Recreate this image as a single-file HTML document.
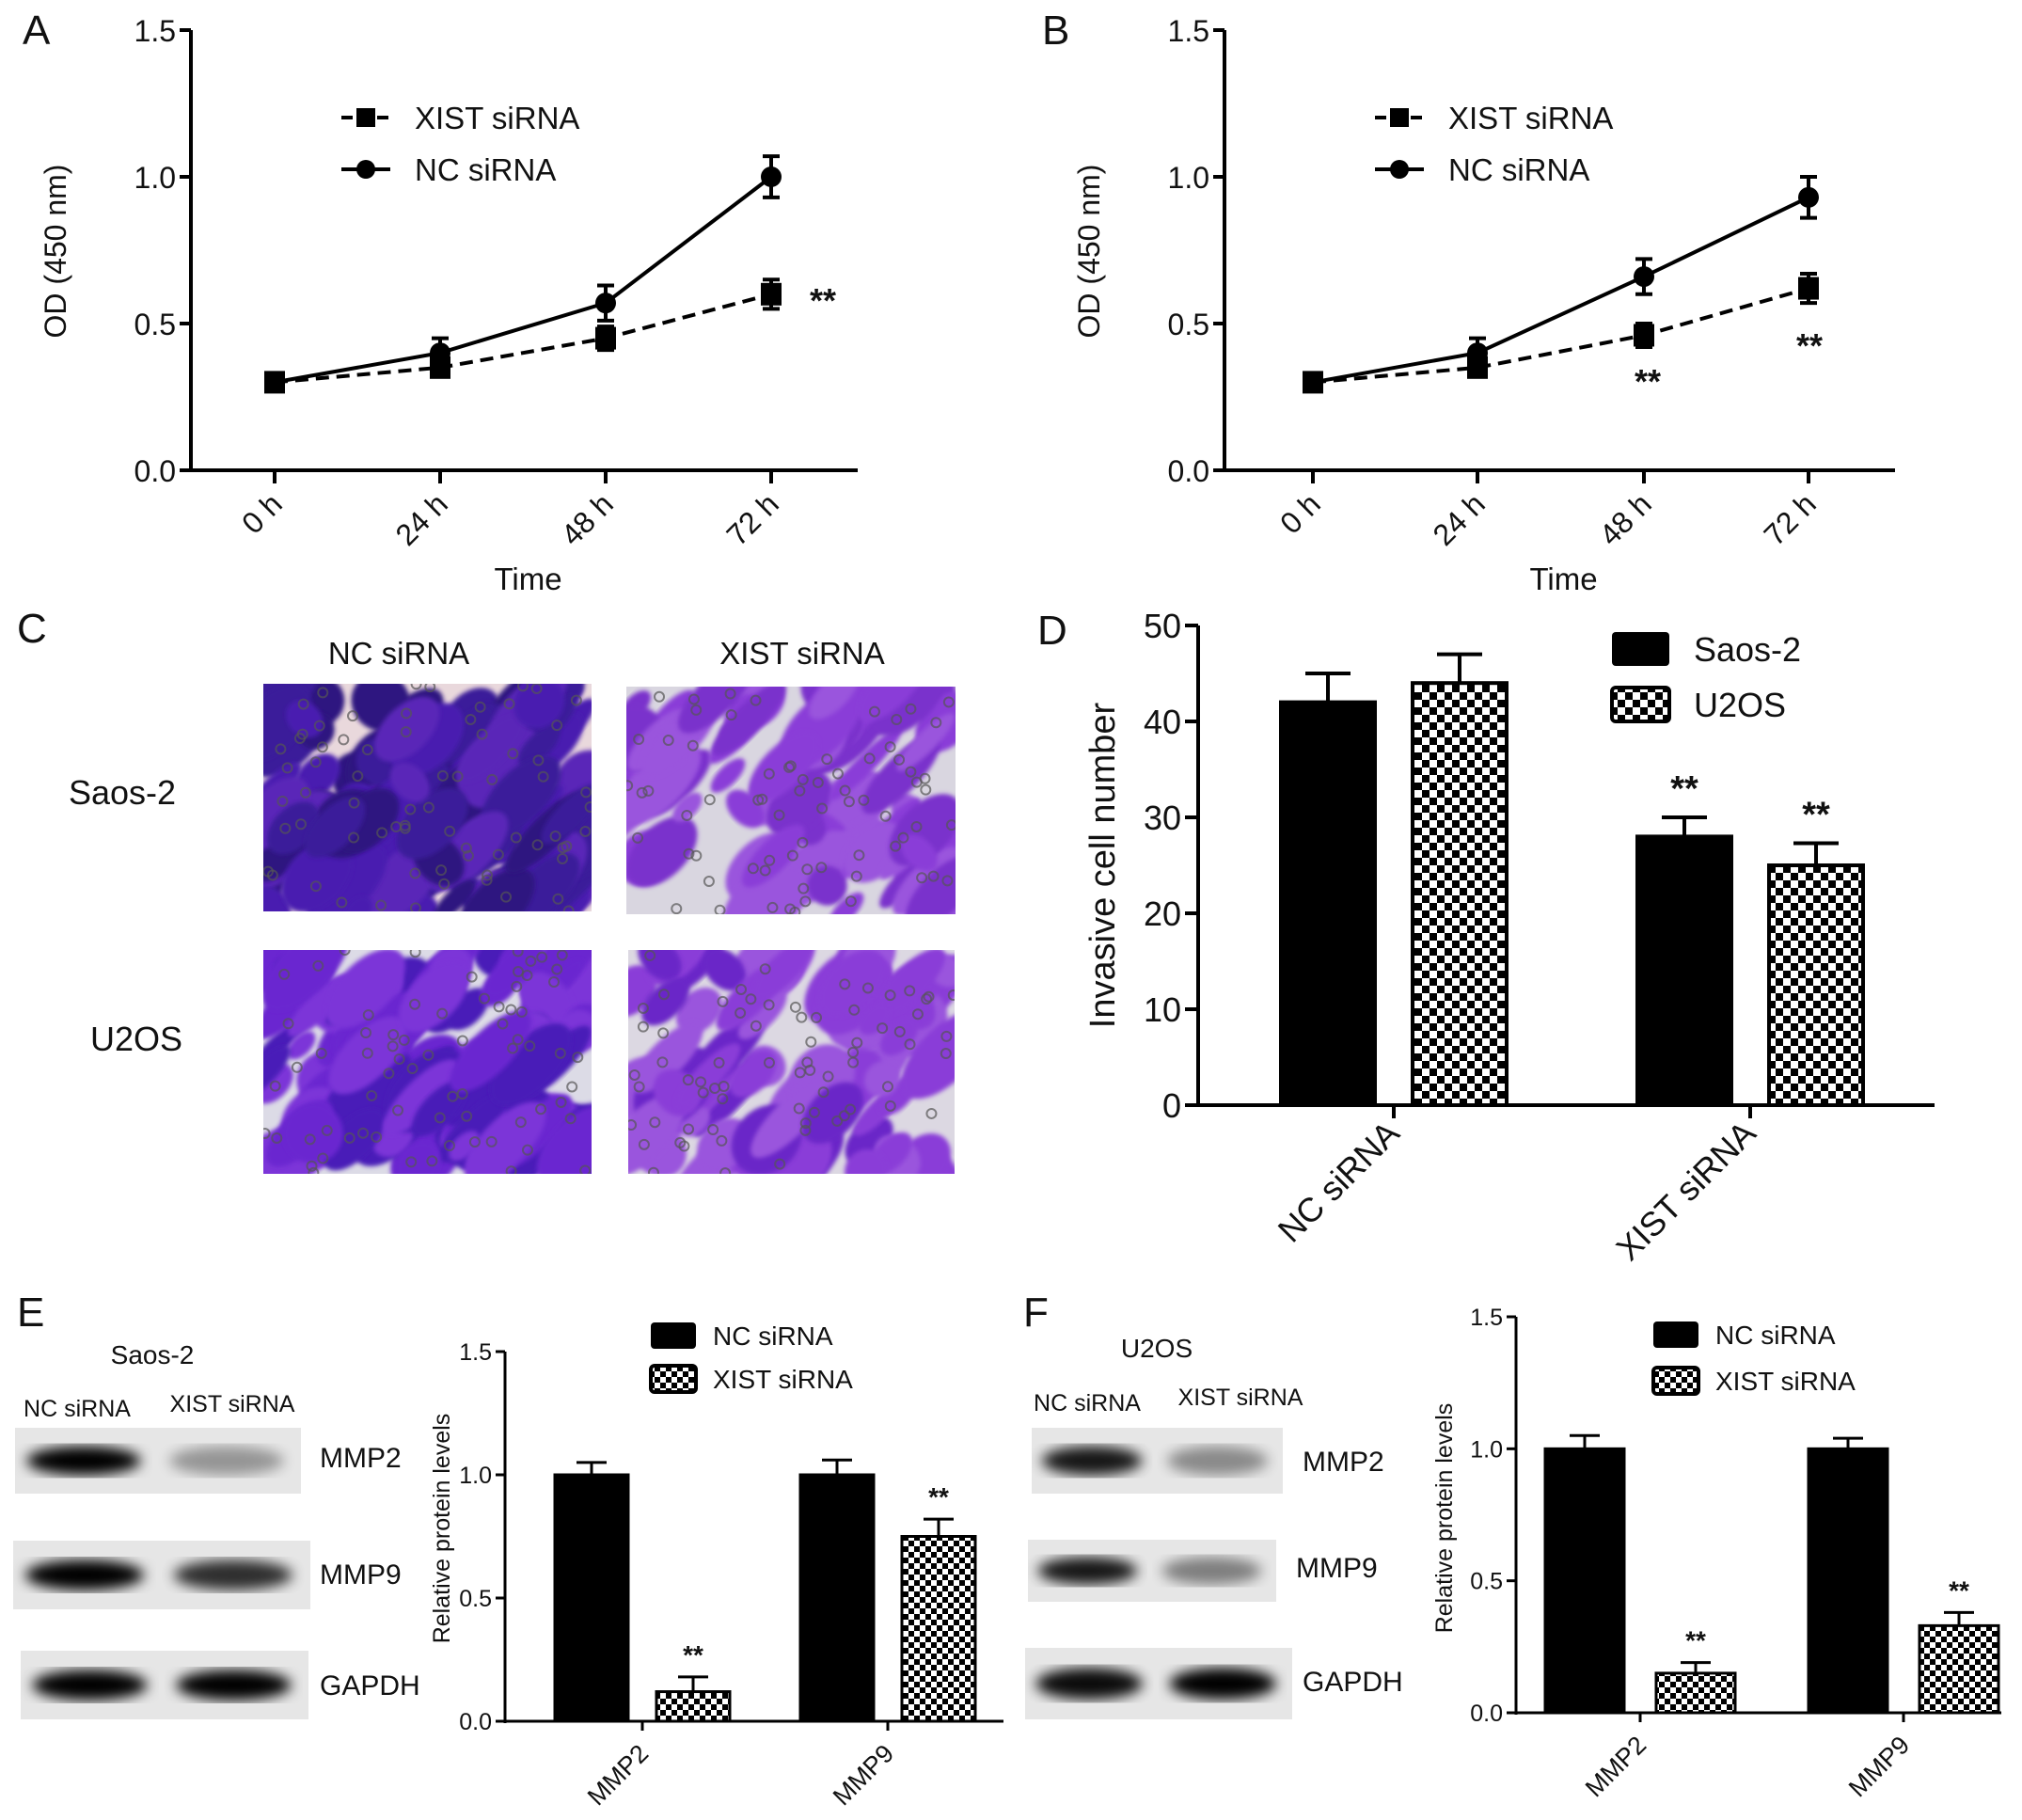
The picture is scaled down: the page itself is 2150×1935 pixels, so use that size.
<!DOCTYPE html>
<html><head><meta charset="utf-8"><style>
html,body{margin:0;padding:0;background:#fff;}
svg{display:block;font-family:"Liberation Sans",Arial,sans-serif;}
</style></head><body>
<svg id="fig" width="2150" height="1935" viewBox="0 0 2150 1935" xmlns="http://www.w3.org/2000/svg">
<defs>
<pattern id="chk" width="16" height="16" patternUnits="userSpaceOnUse">
<rect width="16" height="16" fill="#fff"/><rect width="8" height="8" fill="#000"/><rect x="8" y="8" width="8" height="8" fill="#000"/>
</pattern>
<pattern id="chk2" width="12" height="12" patternUnits="userSpaceOnUse">
<rect width="12" height="12" fill="#fff"/><rect width="6" height="6" fill="#000"/><rect x="6" y="6" width="6" height="6" fill="#000"/>
</pattern>
<filter id="blur6"><feGaussianBlur stdDeviation="7"/></filter>
<filter id="blur3"><feGaussianBlur stdDeviation="2.5"/></filter>
</defs>
</svg>
<script>
// ---- Panel A/B data (OD 450nm) ----
const timeLabels = ["0 h","24 h","48 h","72 h"];
const odTicks = [0.0,0.5,1.0,1.5];
const aXist = [0.30,0.35,0.45,0.60];
const aXistErr = [0.03,0.03,0.04,0.05];
const aNc = [0.30,0.40,0.57,1.00];
const aNcErr = [0.03,0.05,0.06,0.07];
const bXist = [0.30,0.35,0.46,0.62];
const bXistErr = [0.03,0.03,0.04,0.05];
const bNc = [0.30,0.40,0.66,0.93];
const bNcErr = [0.03,0.05,0.06,0.07];
// ---- Panel D data ----
const dGroups = ["NC siRNA","XIST siRNA"];
const dSaos = [42,28];
const dSaosErr = [3,2];
const dU2os = [44,25];
const dU2osErr = [3,2.3];
const dTicks = [0,10,20,30,40,50];
// ---- Panel E/F data ----
const protGroups = ["MMP2","MMP9"];
const protTicks = [0.0,0.5,1.0,1.5];
const eNc = [1.0,1.0];
const eNcErr = [0.05,0.06];
const eXist = [0.12,0.75];
const eXistErr = [0.06,0.07];
const fNc = [1.0,1.0];
const fNcErr = [0.05,0.04];
const fXist = [0.15,0.33];
const fXistErr = [0.04,0.05];

const svg = document.getElementById('fig');
const NS = 'http://www.w3.org/2000/svg';
function mk(tag, attrs, name, parent){
  const el = document.createElementNS(NS, tag);
  for (const k in attrs) el.setAttribute(k, attrs[k]);
  
  
  (parent||svg).appendChild(el);
  return el;
}
function txt(x,y,s,size,name,extra){
  const a = Object.assign({x:x,y:y,'font-size':size,fill:'#111'}, extra||{});
  const t = mk('text', a, name);
  t.textContent = s;
  return t;
}
function lin(x1,y1,x2,y2,w,name,extra){
  return mk('line', Object.assign({x1:x1,y1:y1,x2:x2,y2:y2,stroke:'#000','stroke-width':w}, extra||{}), name);
}

// ===== line charts =====
function lineChart(o){
  const yS = v => o.y0 - (v - 0)/(1.5)*(o.y0 - o.yTop);
  const xS = i => o.xs[i];
  lin(o.ax, o.yTop, o.ax, o.y0+2, 4, o.p+'-y-axis');
  lin(o.ax-2, o.y0, o.xEnd, o.y0, 4, o.p+'-x-axis');
  odTicks.forEach(v=>{
    lin(o.ax-12, yS(v), o.ax, yS(v), 4, o.p+'-y-tick');
    txt(o.ax-16, yS(v)+12, v.toFixed(1), 32, o.p+'-y-tick-label', {'text-anchor':'end'});
  });
  timeLabels.forEach((s,i)=>{
    lin(xS(i), o.y0, xS(i), o.y0+14, 4, o.p+'-x-tick');
    txt(xS(i)+10, o.y0+38, s, 32, o.p+'-x-tick-label', {'text-anchor':'end', transform:`rotate(-45 ${xS(i)+10} ${o.y0+38})`});
  });
  txt((o.ax+o.xEnd)/2+4, 627, 'Time', 33, o.p+'-x-axis-title', {'text-anchor':'middle'});
  txt(o.ax-145+12, 267, 'OD (450 nm)', 32, o.p+'-y-axis-title', {'text-anchor':'middle', transform:`rotate(-90 ${o.ax-133} 267)`});
  function series(vals, errs, dashed, marker, nm){
    let d = vals.map((v,i)=>(i?'L':'M')+xS(i)+','+yS(v)).join(' ');
    mk('path', {d:d, fill:'none', stroke:'#000','stroke-width':4,'stroke-dasharray':dashed?'14,8':'none'}, o.p+'-'+nm+'-line');
    vals.forEach((v,i)=>{
      const x=xS(i), e=errs[i];
      lin(x, yS(v+e), x, yS(v-e), 4, o.p+'-'+nm+'-error-bar');
      lin(x-9, yS(v+e), x+9, yS(v+e), 4, o.p+'-'+nm+'-error-cap');
      lin(x-9, yS(v-e), x+9, yS(v-e), 4, o.p+'-'+nm+'-error-cap');
      if (marker==='sq') mk('rect',{x:x-11,y:yS(v)-12,width:22,height:24,fill:'#000'}, o.p+'-'+nm+'-point');
      else mk('circle',{cx:x,cy:yS(v),r:11,fill:'#000'}, o.p+'-'+nm+'-point');
    });
  }
  series(o.xist, o.xistErr, true, 'sq', 'xist');
  series(o.nc, o.ncErr, false, 'ci', 'nc');
  // legend
  const lx = o.ax+160;
  lin(lx, 125, lx+52, 125, 4, o.p+'-legend-xist-line', {'stroke-dasharray':'12,7'});
  mk('rect',{x:lx+16,y:115,width:20,height:20,fill:'#000'}, o.p+'-legend-xist-marker');
  txt(lx+78, 137, 'XIST siRNA', 33, o.p+'-legend-xist-label');
  lin(lx, 180, lx+52, 180, 4, o.p+'-legend-nc-line');
  mk('circle',{cx:lx+26,cy:180,r:10,fill:'#000'}, o.p+'-legend-nc-marker');
  txt(lx+78, 192, 'NC siRNA', 33, o.p+'-legend-nc-label');
  o.stars.forEach(s=>txt(s[0], s[1], '**', 36, o.p+'-significance', {'text-anchor':'middle','font-weight':'bold'}));
  txt(o.labelX, 47, o.label, 44, o.p+'-panel-label');
}
lineChart({p:'a', label:'A', labelX:24, ax:203, yTop:32, y0:500, xEnd:912, xs:[292,468,644,820],
  xist:aXist, xistErr:aXistErr, nc:aNc, ncErr:aNcErr, stars:[[875,332]]});
lineChart({p:'b', label:'B', labelX:1108, ax:1302, yTop:32, y0:500, xEnd:2015, xs:[1396,1571,1748,1923],
  xist:bXist, xistErr:bXistErr, nc:bNc, ncErr:bNcErr, stars:[[1752,418],[1924,380]]});

// ===== bar charts =====
function barChart(o){
  const yS = v => o.y0 - v/o.max*(o.y0-o.yTop);
  lin(o.ax, o.yTop, o.ax, o.y0+2, o.lw, o.p+'-y-axis');
  lin(o.ax-2, o.y0, o.xEnd, o.y0, o.lw, o.p+'-x-axis');
  o.ticks.forEach(v=>{
    lin(o.ax-o.tl, yS(v), o.ax, yS(v), o.lw, o.p+'-y-tick');
    txt(o.ax-o.tl-4, yS(v)+o.fs*0.36, o.fmt(v), o.fs, o.p+'-y-tick-label', {'text-anchor':'end'});
  });
  o.groups.forEach((g,i)=>{
    const c = o.centers[i];
    lin(c, o.y0, c, o.y0+o.tl, o.lw, o.p+'-x-tick');
    txt(c+8, o.y0+o.tl+o.xoff, g, o.xfs, o.p+'-x-tick-label', {'text-anchor':'end', transform:`rotate(-45 ${c+8} ${o.y0+o.tl+o.xoff})`});
    [[o.s1,o.e1,'#000',-1],[o.s2,o.e2,o.pat,1]].forEach((s,k)=>{
      const v = s[0][i], e = s[1][i];
      const x0 = k===0 ? c-o.gap/2-o.bw : c+o.gap/2;
      const xc = x0+o.bw/2;
      lin(xc, yS(v), xc, yS(v+e), o.lw, o.p+'-error-bar');
      lin(xc-o.cap, yS(v+e), xc+o.cap, yS(v+e), o.lw, o.p+'-error-cap');
      mk('rect',{x:x0,y:yS(v),width:o.bw,height:o.y0-yS(v),fill:s[2],stroke:'#000','stroke-width':o.lw}, o.p+'-bar-'+g.replace(/\s/g,'-').toLowerCase()+'-'+(k?o.n2:o.n1));
      if (o.starIdx.indexOf(i)>=0 && (k===1 || o.starBoth))
        txt(xc, yS(v+e)-o.starOff, '**', o.sfs, o.p+'-significance', {'text-anchor':'middle','font-weight':'bold'});
    });
  });
  // legend
  mk('rect',{x:o.lgx,y:o.lgy-o.lh/2,width:o.lwid,height:o.lh,fill:'#000',rx:4}, o.p+'-legend-swatch-1');
  txt(o.lgx+o.lwid+o.lpad, o.lgy+o.lfs*0.36, o.l1, o.lfs, o.p+'-legend-label-1');
  mk('rect',{x:o.lgx,y:o.lgy+o.lsp-o.lh/2,width:o.lwid,height:o.lh,fill:o.pat,stroke:'#000','stroke-width':4,rx:4}, o.p+'-legend-swatch-2');
  txt(o.lgx+o.lwid+o.lpad, o.lgy+o.lsp+o.lfs*0.36, o.l2, o.lfs, o.p+'-legend-label-2');
  txt(o.ylx, o.yly, o.ylab, o.ylfs, o.p+'-y-axis-title', {'text-anchor':'middle', transform:`rotate(-90 ${o.ylx} ${o.yly})`});
}
barChart({p:'d', ax:1274, yTop:665, y0:1175, xEnd:2057, max:50, ticks:dTicks, fmt:v=>String(v), fs:36, xfs:36, xoff:18, lw:4, tl:14,
  groups:dGroups, centers:[1482,1861], gap:40, bw:100, cap:24, s1:dSaos, e1:dSaosErr, s2:dU2os, e2:dU2osErr, pat:'url(#chk)',
  n1:'saos-2', n2:'u2os', starIdx:[1], starBoth:true, starOff:18, sfs:38,
  lgx:1714, lgy:690, lh:36, lwid:61, lsp:59, lpad:26, lfs:36, l1:'Saos-2', l2:'U2OS',
  ylx:1185, yly:920, ylab:'Invasive cell number', ylfs:38});
barChart({p:'e', ax:537, yTop:1437, y0:1830, xEnd:1067, max:1.5, ticks:protTicks, fmt:v=>v.toFixed(1), fs:25, xfs:27, xoff:26, lw:3, tl:10,
  groups:protGroups, centers:[683,944], gap:30, bw:78, cap:16, s1:eNc, e1:eNcErr, s2:eXist, e2:eXistErr, pat:'url(#chk2)',
  n1:'nc', n2:'xist', starIdx:[0,1], starBoth:false, starOff:14, sfs:28,
  lgx:692, lgy:1420, lh:28, lwid:48, lsp:46, lpad:18, lfs:28, l1:'NC siRNA', l2:'XIST siRNA',
  ylx:478, yly:1625, ylab:'Relative protein levels', ylfs:25});
barChart({p:'f', ax:1612, yTop:1400, y0:1821, xEnd:2128, max:1.5, ticks:protTicks, fmt:v=>v.toFixed(1), fs:25, xfs:27, xoff:26, lw:3, tl:10,
  groups:protGroups, centers:[1744,2024], gap:34, bw:84, cap:16, s1:fNc, e1:fNcErr, s2:fXist, e2:fXistErr, pat:'url(#chk2)',
  n1:'nc', n2:'xist', starIdx:[0,1], starBoth:false, starOff:14, sfs:28,
  lgx:1758, lgy:1419, lh:28, lwid:48, lsp:49, lpad:18, lfs:28, l1:'NC siRNA', l2:'XIST siRNA',
  ylx:1544, yly:1614, ylab:'Relative protein levels', ylfs:25});
txt(1103, 685, 'D', 44, 'd-panel-label');

// ===== Panel C: micrographs =====
txt(18, 683, 'C', 44, 'c-panel-label');
txt(424, 706, 'NC siRNA', 33, 'c-col-label-nc', {'text-anchor':'middle'});
txt(853, 706, 'XIST siRNA', 33, 'c-col-label-xist', {'text-anchor':'middle'});
txt(130, 855, 'Saos-2', 36, 'c-row-label-saos2', {'text-anchor':'middle'});
txt(145, 1117, 'U2OS', 36, 'c-row-label-u2os', {'text-anchor':'middle'});
let seed = 7;
function rnd(){ seed = (seed*16807) % 2147483647; return (seed-1)/2147483646; }
function micro(x,y,w,h,bg,col,density,n){
  const g = mk('g',{}, n);
  const cid = n+'-clip';
  const cp = mk('clipPath',{id:cid}, n+'-clip');
  mk('rect',{x:x,y:y,width:w,height:h}, n+'-clip-rect', cp);
  g.setAttribute('clip-path','url(#'+cid+')');
  mk('rect',{x:x,y:y,width:w,height:h,fill:bg}, n+'-background', g);
  for(let i=0;i<density;i++){
    const cx=x+rnd()*w, cy=y+rnd()*h, rx=15+rnd()*45, ry=10+rnd()*25;
    mk('ellipse',{cx:cx,cy:cy,rx:rx,ry:ry,fill:col[Math.floor(rnd()*col.length)],transform:`rotate(-45 ${cx} ${cy})`,filter:'url(#blur3)'}, n+'-cell', g);
  }
  for(let i=0;i<70;i++){
    mk('circle',{cx:x+rnd()*w,cy:y+rnd()*h,r:5,fill:'none',stroke:'#555','stroke-width':2,opacity:0.7}, n+'-pore', g);
  }
}
micro(280,727,349,242,'#e9d8dc',['#3a1a9a','#4a1fb0','#2d1580','#5a25b8'],120,'micro-saos2-nc');
micro(666,730,350,242,'#d9d6e0',['#8a3ed8','#7a30cc','#9a55dd'],65,'micro-saos2-xist');
micro(280,1010,349,238,'#dcdbe6',['#6a25d0','#4a1fb8','#7c35d8'],100,'micro-u2os-nc');
micro(668,1010,347,238,'#dcd8e2',['#8a3ed8','#6a28c8','#9a55dd'],65,'micro-u2os-xist');

// ===== Western blots =====
function blot(x,y,w,h,b1,b2,n){
  mk('rect',{x:x,y:y,width:w,height:h,fill:'#e6e6e6'}, n+'-membrane');
  mk('ellipse',{cx:x+w*0.24,cy:y+h/2,rx:w*0.2,ry:h*0.22,fill:'#000',opacity:b1,filter:'url(#blur6)'}, n+'-band-nc');
  mk('ellipse',{cx:x+w*0.74,cy:y+h/2,rx:w*0.2,ry:h*0.22,fill:'#000',opacity:b2,filter:'url(#blur6)'}, n+'-band-xist');
}
txt(18, 1410, 'E', 44, 'e-panel-label');
txt(162, 1450, 'Saos-2', 28, 'e-blot-title', {'text-anchor':'middle'});
txt(82, 1506, 'NC siRNA', 25, 'e-lane-nc', {'text-anchor':'middle'});
txt(247, 1501, 'XIST siRNA', 25, 'e-lane-xist', {'text-anchor':'middle'});
blot(16,1518,304,70,1,0.35,'e-blot-mmp2');
blot(14,1638,316,73,1,0.8,'e-blot-mmp9');
blot(22,1755,306,73,1,1,'e-blot-gapdh');
txt(340,1560,'MMP2',30,'e-label-mmp2');
txt(340,1684,'MMP9',30,'e-label-mmp9');
txt(340,1802,'GAPDH',30,'e-label-gapdh');
txt(1088, 1410, 'F', 44, 'f-panel-label');
txt(1230, 1443, 'U2OS', 28, 'f-blot-title', {'text-anchor':'middle'});
txt(1156, 1500, 'NC siRNA', 25, 'f-lane-nc', {'text-anchor':'middle'});
txt(1319, 1494, 'XIST siRNA', 25, 'f-lane-xist', {'text-anchor':'middle'});
blot(1097,1518,267,70,0.9,0.4,'f-blot-mmp2');
blot(1093,1637,264,66,0.9,0.45,'f-blot-mmp9');
blot(1090,1752,284,76,0.95,1,'f-blot-gapdh');
txt(1385,1564,'MMP2',30,'f-label-mmp2');
txt(1378,1677,'MMP9',30,'f-label-mmp9');
txt(1385,1798,'GAPDH',30,'f-label-gapdh');
</script>
</body></html>
